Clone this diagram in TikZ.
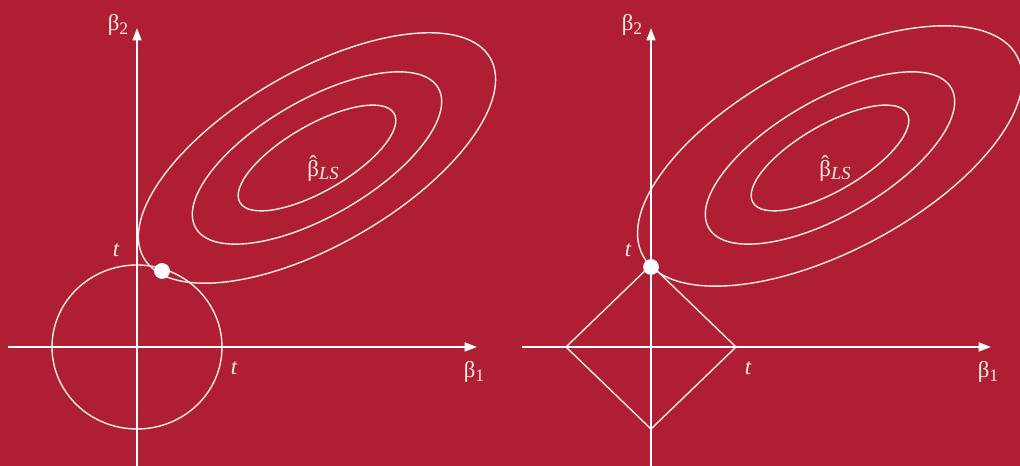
\documentclass[tikz,border=0pt]{standalone}
\usepackage{fontspec}
\setmainfont{Liberation Serif}
\usepackage{xcolor}
\usepackage{tikz}
\usetikzlibrary{arrows.meta}
\definecolor{crimson}{RGB}{176,30,52}
\definecolor{chalk}{RGB}{250,238,228}
\tikzset{
  axis/.style={draw=white, line width=1.1pt, -{Triangle[length=7pt,width=5pt]}},
  contour/.style={draw=chalk, line width=0.8pt},
  region/.style={draw=chalk, line width=0.8pt},
  lbl/.style={text=chalk, font=\fontsize{13}{15}\selectfont, inner sep=0pt},
  dot/.style={circle, fill=white, minimum size=9pt, inner sep=0pt}
}
\newcommand{\betahat}{\ooalign{β\cr\hidewidth\raisebox{0.2em}{ˆ}\hidewidth\cr}\raisebox{-0.35ex}{\fontsize{10.5}{12}\selectfont\itshape LS}}

\begin{document}
\begin{tikzpicture}[x=0.2mm, y=0.2mm]
  \useasboundingbox (0,0) rectangle (1020,466);
  \clip (0,0) rectangle (1020,466);
  \fill[crimson] (0,0) rectangle (1020,466);

  % left panel: ridge, circle
  \draw[region] (137,119) ellipse [x radius=85, y radius=82];
  \draw[contour] (317,308) ellipse [x radius=200, y radius=87, rotate=30];
  \foreach \a/\b in {140/58, 89/33}
    \draw[contour] (317,308) ellipse [x radius=\a, y radius=\b, rotate=30];
  \draw[axis] (137,0) -- (137,438);
  \draw[axis] (8,119) -- (477,119);
  \node[dot] (touchL) at (162,195) {};
  \node[lbl] (b2L) at (118,441) {β\raisebox{-0.4ex}{\fontsize{10}{12}\selectfont 2}};
  \node[lbl] (b1L) at (474,94) {β\raisebox{-0.4ex}{\fontsize{10}{12}\selectfont 1}};
  \node[lbl] (tyL) at (116,216) {\itshape t};
  \node[lbl] (txL) at (234,98) {\itshape t};
  \node[lbl] (lsL) at (323,296) {\betahat};

  % right panel: lasso, diamond
  \draw[region] (566,119) -- (651,201) -- (736,119) -- (651,37) -- cycle;
  \draw[contour] (830,310) ellipse [x radius=212, y radius=95, rotate=28];
  \foreach \a/\b in {140/58, 89/33}
    \draw[contour] (830,308) ellipse [x radius=\a, y radius=\b, rotate=30];
  \draw[axis] (651,0) -- (651,438);
  \draw[axis] (522,119) -- (991,119);
  \node[dot] (touchR) at (651,199) {};
  \node[lbl] (b2R) at (632,441) {β\raisebox{-0.4ex}{\fontsize{10}{12}\selectfont 2}};
  \node[lbl] (b1R) at (988,94) {β\raisebox{-0.4ex}{\fontsize{10}{12}\selectfont 1}};
  \node[lbl] (tyR) at (628,216) {\itshape t};
  \node[lbl] (txR) at (748,98) {\itshape t};
  \node[lbl] (lsR) at (835,296) {\betahat};
\end{tikzpicture}
\end{document}
